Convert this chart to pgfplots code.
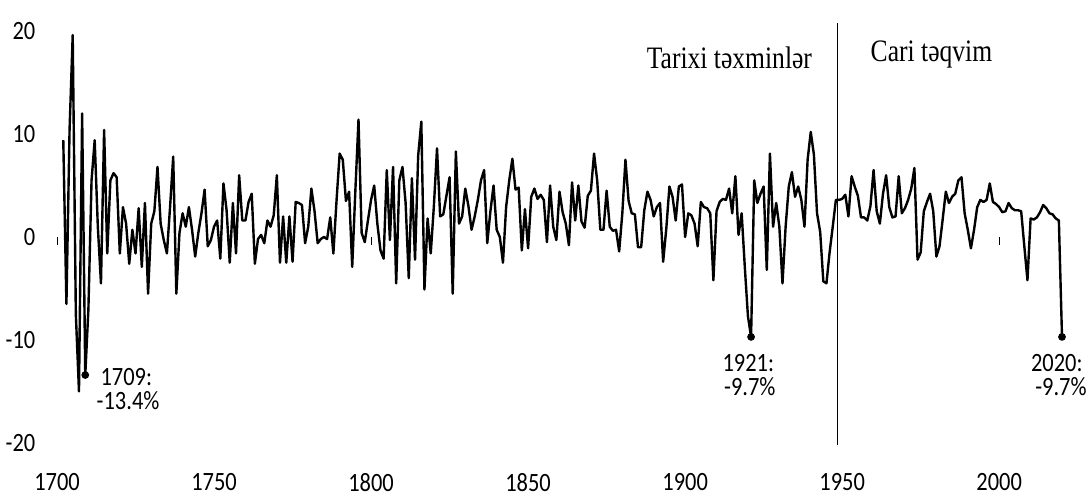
\documentclass[border=0pt]{standalone}
\usepackage{fontspec}
\usepackage{pgfplots}
\usepackage{pgfplotstable}
\pgfplotsset{compat=1.18}
\usetikzlibrary{calc}
\newfontfamily\lbl{Carlito}[FakeStretch=0.85]
\newfontfamily\srf{Liberation Serif}[FakeStretch=0.82]

% annual growth, per cent
\pgfplotstableread{
year g
1702 9.4
1703 -6.5
1704 10.4
1705 19.6
1706 -7.5
1707 -15
1708 12
1709 -13.4
1710 -7
1711 5.5
1712 9.4
1713 1
1714 -4.5
1715 10.4
1716 -1.6
1717 5.5
1718 6.2
1719 5.8
1720 -1.6
1721 2.9
1722 1.3
1723 -2.6
1724 0.7
1725 -1.6
1726 2.8
1727 -2.9
1728 3.3
1729 -5.5
1730 1.3
1731 2.5
1732 6.8
1733 1.3
1734 -0.3
1735 -1.6
1736 2.9
1737 7.8
1738 -5.5
1739 0.4
1740 2.3
1741 1
1742 2.9
1743 0.7
1744 -1.9
1745 0.4
1746 2.3
1747 4.6
1748 -0.9
1749 -0.3
1750 1
1751 1.6
1752 -2.1
1753 5.2
1754 2.6
1755 -2.5
1756 3.3
1757 -1.6
1758 6
1759 1.6
1760 1.6
1761 3.4
1762 4.2
1763 -2.6
1764 -0.2
1765 0.2
1766 -0.6
1767 1.6
1768 1
1769 2.1
1770 6
1771 -2.5
1772 2
1773 -2.5
1774 2
1775 -2.4
1776 3.4
1777 3.3
1778 3.1
1779 -0.6
1780 1
1781 4.7
1782 2.5
1783 -0.6
1784 -0.2
1785 0
1786 -0.2
1787 1.9
1788 -1.6
1789 3.5
1790 8.1
1791 7.5
1792 3.5
1793 4.4
1794 -2.9
1795 4.5
1796 11.4
1797 0.4
1798 -0.5
1799 1.6
1800 3.6
1801 5
1802 1.3
1803 -1.3
1804 -2.1
1805 6.5
1806 -0.3
1807 6.8
1808 -4.5
1809 5.5
1810 6.8
1811 3.3
1812 -4
1813 5.7
1814 -2.2
1815 7.9
1816 11.2
1817 -5.1
1818 1.8
1819 -1.6
1820 3
1821 8.6
1822 2
1823 2.2
1824 4
1825 5.8
1826 -5.5
1827 8.3
1828 1.3
1829 2
1830 4.7
1831 3
1832 0.7
1833 2
1834 3.6
1835 5.5
1836 6.5
1837 -0.6
1838 2.5
1839 5
1840 0.7
1841 0
1842 -2.5
1843 2.9
1844 5.5
1845 7.6
1846 4.6
1847 4.8
1848 -1.3
1849 2.7
1850 -1.1
1851 3.9
1852 4.7
1853 3.7
1854 4.1
1855 3.6
1856 -0.5
1857 5
1858 1
1859 -0.3
1860 4.4
1861 2.4
1862 1.3
1863 -0.8
1864 5.3
1865 1.6
1866 5
1867 1.5
1868 0.9
1869 4
1870 4.5
1871 8.1
1872 5.5
1873 0.7
1874 0.7
1875 4.5
1876 1
1877 0.6
1878 0.7
1879 -1.4
1880 2.3
1881 7.5
1882 3.5
1883 2.3
1884 2.2
1885 -1
1886 -1
1887 2.6
1888 4.4
1889 3.6
1890 2
1891 2.9
1892 3.3
1893 -2.4
1894 0.8
1895 4.9
1896 3.9
1897 1.6
1898 4.9
1899 5.1
1900 0
1901 2.3
1902 2.1
1903 1.3
1904 -0.9
1905 3.4
1906 2.9
1907 2.8
1908 2.3
1909 -4.2
1910 2.5
1911 3.4
1912 3.7
1913 3.6
1914 4.7
1915 2.3
1916 5.9
1917 0.2
1918 2.3
1919 -2.9
1920 -7.7
1921 -9.7
1922 5.5
1923 3.3
1924 4.2
1925 4.9
1926 -3.2
1927 8.1
1928 1
1929 3.3
1930 1
1931 -4.5
1932 1
1933 4.9
1934 6.3
1935 3.9
1936 4.9
1937 3.6
1938 1
1939 7.5
1940 10.2
1941 8
1942 2.3
1943 0.5
1944 -4.3
1945 -4.5
1946 -1.5
1947 1
1948 3.6
1949 3.6
1950 3.7
1951 4.1
1952 2
1953 5.9
1954 4.9
1955 4
1956 1.9
1957 1.9
1958 1.6
1959 3
1960 6.5
1961 2.5
1962 1.3
1963 4.2
1964 6
1965 2.9
1966 1.9
1967 2
1968 5.9
1969 2.3
1970 2.8
1971 3.6
1972 4.7
1973 6.7
1974 -2.2
1975 -1.5
1976 2.5
1977 3.4
1978 4.2
1979 2.5
1980 -1.9
1981 -0.9
1982 1.7
1983 4.4
1984 3.3
1985 3.9
1986 4.2
1987 5.5
1988 5.8
1989 2.3
1990 0.7
1991 -1.1
1992 0.7
1993 2.9
1994 3.6
1995 3.4
1996 3.6
1997 5.2
1998 3.4
1999 3.2
2000 2.9
2001 2.4
2002 2.5
2003 3.3
2004 2.8
2005 2.6
2006 2.6
2007 2.5
2008 -0.9
2009 -4.2
2010 1.8
2011 1.7
2012 1.9
2013 2.4
2014 3.1
2015 2.8
2016 2.3
2017 2.2
2018 1.8
2019 1.6
2020 -9.7
}\gdp

\begin{document}
\begin{tikzpicture}
\begin{axis}[
  scale only axis, width=418.75pt, height=171.67pt,
  xmin=1700, xmax=2020, ymin=-20, ymax=20,
  axis line style={draw=none}, tick style={draw=none},
  xtick={1700,1750,...,2000}, ytick={-20,-10,...,20},
  ticklabel style={font=\lbl\fontsize{11}{13}\selectfont},
  /pgf/number format/assume math mode=true,
  /pgf/number format/1000 sep={},
  xticklabel style={yshift=-9pt},
  yticklabel style={xshift=-5.5pt},
  clip=false,
]
\coordinate (ll) at (rel axis cs:0,0);
\coordinate (ur) at (rel axis cs:1,1);
% small ticks left on the zero line
\foreach \t in {1700,1800,2000}{
  \edef\tmp{\noexpand\draw[line width=0.4pt] (axis cs:\t,0) -- (axis cs:\t,-0.8);}\tmp
}
% boundary between the two series
\addplot[black, line width=0.5pt] coordinates {(1948.4,-20.2) (1948.4,20.8)};
\addplot[black, line width=1pt, line join=round] table[x=year, y=g] {\gdp};
\addplot[only marks, mark=*, mark size=1.4pt, black] coordinates {(1709,-13.4) (1921,-9.7) (2020,-9.7)};

\node[font=\srf\fontsize{13}{15}\selectfont, anchor=base west] at (axis cs:1885.1,16.4) {Tarixi təxminlər};
\node[font=\srf\fontsize{13}{15}\selectfont, anchor=base west] at (axis cs:1956.4,17.0) {Cari təqvim};

\node[font=\lbl\fontsize{11}{13}\selectfont, anchor=base west, inner sep=0pt] at (axis cs:1713.7,-14.4) {1709:};
\node[font=\lbl\fontsize{11}{13}\selectfont, anchor=base west, inner sep=0pt] at (axis cs:1712.5,-16.7) {-13.4\%};
\node[font=\lbl\fontsize{11}{13}\selectfont, anchor=base, inner sep=0pt] at (axis cs:1920.1,-13.1) {1921:};
\node[font=\lbl\fontsize{11}{13}\selectfont, anchor=base, inner sep=0pt] at (axis cs:1920.6,-15.4) {-9.7\%};
\node[font=\lbl\fontsize{11}{13}\selectfont, anchor=base east, inner sep=0pt] at (axis cs:2026.7,-13.1) {2020:};
\node[font=\lbl\fontsize{11}{13}\selectfont, anchor=base east, inner sep=0pt] at (axis cs:2028,-15.4) {-9.7\%};
\end{axis}
\pgfresetboundingbox
\path[use as bounding box] ($(ll)+(-23.75pt,-22.5pt)$) rectangle ($(ur)+(10pt,12.92pt)$);
\end{tikzpicture}
\end{document}
